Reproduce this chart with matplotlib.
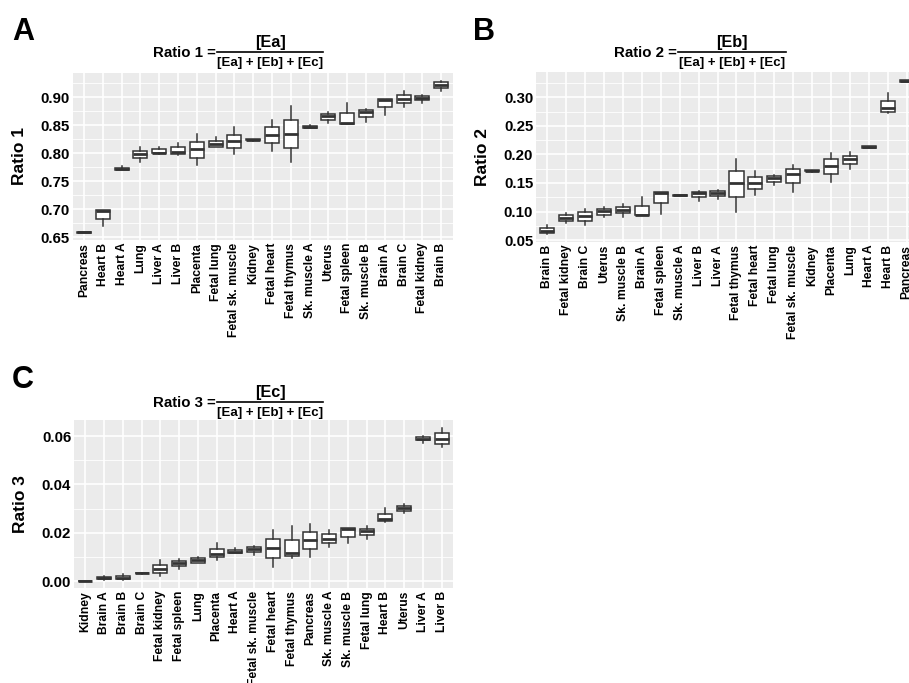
import matplotlib
matplotlib.use("Agg")
import matplotlib.pyplot as plt
from matplotlib.lines import Line2D
from matplotlib.ticker import MultipleLocator, FormatStrFormatter

plt.rcParams['font.family'] = ['Liberation Sans', 'DejaVu Sans']
plt.rcParams['font.weight'] = 'bold'

# ---------------- data ----------------
cats_a = ["Pancreas", "Heart B", "Heart A", "Lung", "Liver A", "Liver B", "Placenta",
          "Fetal lung", "Fetal sk. muscle", "Kidney", "Fetal heart", "Fetal thymus",
          "Sk. muscle A", "Uterus", "Fetal spleen", "Sk. muscle B", "Brain A", "Brain C",
          "Fetal kidney", "Brain B"]
lo_a = [0.658, 0.670, 0.7696, 0.7844, 0.7986, 0.7974, 0.7784, 0.8122, 0.7986, 0.8225,
        0.8033, 0.7838, 0.8455, 0.8537, 0.852, 0.8567, 0.868, 0.8834, 0.8893, 0.9119]
q1_a = [0.6585, 0.683, 0.7705, 0.7915, 0.800, 0.7992, 0.792, 0.8122, 0.8099, 0.823,
        0.8182, 0.8087, 0.846, 0.8597, 0.852, 0.8656, 0.8822, 0.8905, 0.8958, 0.9166]
med_a = [0.659, 0.697, 0.7725, 0.7986, 0.8014, 0.8027, 0.808, 0.8164, 0.8217, 0.8238,
         0.833, 0.8348, 0.8478, 0.8662, 0.8537, 0.8739, 0.896, 0.8976, 0.8994, 0.9213]
q3_a = [0.6595, 0.6984, 0.774, 0.8045, 0.807, 0.8105, 0.8205, 0.8217, 0.8336, 0.8247,
        0.8466, 0.8597, 0.8496, 0.8698, 0.8715, 0.8775, 0.8964, 0.9042, 0.9024, 0.9267]
hi_a = [0.660, 0.699, 0.7767, 0.812, 0.812, 0.818, 0.8348, 0.8294, 0.8478, 0.825,
        0.8603, 0.8846, 0.851, 0.8733, 0.890, 0.8798, 0.8964, 0.9113, 0.9036, 0.9297]

cats_b = ["Brain B", "Fetal kidney", "Brain C", "Uterus", "Sk. muscle B", "Brain A",
          "Fetal spleen", "Sk. muscle A", "Liver B", "Liver A", "Fetal thymus",
          "Fetal heart", "Fetal lung", "Fetal sk. muscle", "Kidney", "Placenta", "Lung",
          "Heart A", "Heart B", "Pancreas"]
lo_b = [0.060, 0.0798, 0.0763, 0.0898, 0.091, 0.0933, 0.0956, 0.127, 0.1178, 0.1225,
        0.0997, 0.1289, 0.1464, 0.1336, 0.170, 0.1523, 0.175, 0.211, 0.272, 0.327]
q1_b = [0.0617, 0.0827, 0.0833, 0.0938, 0.0968, 0.0933, 0.1143, 0.1275, 0.1248, 0.1277,
        0.1248, 0.1394, 0.1523, 0.1493, 0.1705, 0.1657, 0.1832, 0.2115, 0.2749, 0.3275]
med_b = [0.0658, 0.088, 0.092, 0.1003, 0.1026, 0.0938, 0.133, 0.1283, 0.133, 0.133,
         0.1499, 0.1505, 0.1593, 0.1657, 0.1715, 0.1797, 0.1914, 0.213, 0.2807, 0.3286]
q3_b = [0.0716, 0.0933, 0.0985, 0.1038, 0.1085, 0.1096, 0.1341, 0.129, 0.1341, 0.1365,
        0.1709, 0.161, 0.1628, 0.1739, 0.1725, 0.1914, 0.1978, 0.2145, 0.2936, 0.3295]
hi_b = [0.0763, 0.098, 0.1038, 0.1073, 0.1131, 0.1248, 0.1341, 0.1295, 0.1359, 0.1376,
        0.1914, 0.1703, 0.1645, 0.182, 0.173, 0.203, 0.2048, 0.215, 0.307, 0.330]

cats_c = ["Kidney", "Brain A", "Brain B", "Brain C", "Fetal kidney", "Fetal spleen", "Lung",
          "Placenta", "Heart A", "Fetal sk. muscle", "Fetal heart", "Fetal thymus",
          "Pancreas", "Sk. muscle A", "Sk. muscle B", "Fetal lung", "Heart B", "Uterus",
          "Liver A", "Liver B"]
lo_c = [0.0000, 0.0007, 0.0007, 0.0032, 0.0023, 0.0052, 0.0077, 0.0087, 0.0116, 0.0108,
        0.0058, 0.0096, 0.010, 0.0144, 0.0157, 0.0177, 0.0247, 0.0284, 0.0571, 0.0556]
q1_c = [0.00005, 0.0012, 0.0010, 0.0033, 0.0034, 0.0062, 0.0078, 0.0099, 0.0118, 0.0122,
        0.0096, 0.0106, 0.0133, 0.0158, 0.0184, 0.0192, 0.0251, 0.0291, 0.0582, 0.0568]
med_c = [0.0001, 0.0016, 0.0016, 0.0034, 0.0051, 0.0076, 0.0087, 0.0114, 0.0122, 0.0133,
         0.0137, 0.0117, 0.0169, 0.0177, 0.0217, 0.021, 0.0258, 0.0305, 0.0588, 0.0586]
q3_c = [0.00015, 0.0020, 0.0023, 0.0035, 0.0067, 0.0085, 0.0095, 0.0135, 0.0129, 0.0141,
        0.0174, 0.0169, 0.0205, 0.0196, 0.0221, 0.0218, 0.028, 0.0313, 0.0596, 0.0611]
hi_c = [0.0002, 0.0023, 0.0032, 0.0036, 0.0087, 0.0092, 0.010, 0.0158, 0.0136, 0.0147,
        0.0213, 0.0227, 0.0239, 0.0214, 0.0221, 0.0228, 0.0303, 0.032, 0.0598, 0.0633]

# ---------------- layout helpers ----------------
W, H = 909, 683
fig = plt.figure(figsize=(W / 100, H / 100), dpi=100)


def fx(x):
    return x / W


def fy(y):
    return 1 - y / H


def add_ax(l, t, r, b):
    return fig.add_axes([fx(l), fy(b), (r - l) / W, (b - t) / H])


EDGE = '#333333'


def panel(ax, cats, lo, q1, med, q3, hi, ylim, step, ylabel):
    ax.set_facecolor('#EBEBEB')
    stats = [dict(whislo=a, q1=b, med=c, q3=d, whishi=e, fliers=[])
             for a, b, c, d, e in zip(lo, q1, med, q3, hi)]
    ax.bxp(stats, positions=list(range(len(cats))), widths=0.75, showcaps=False,
           patch_artist=True,
           boxprops=dict(facecolor='white', edgecolor=EDGE, linewidth=1.1),
           medianprops=dict(color=EDGE, linewidth=2.0, solid_capstyle='butt'),
           whiskerprops=dict(color=EDGE, linewidth=1.1))
    ax.set_xlim(-0.6, len(cats) - 0.4)
    ax.set_ylim(*ylim)
    ax.set_xticks(range(len(cats)))
    ax.set_xticklabels(cats, rotation=90, fontsize=8.7, fontweight='bold', color='black')
    ax.yaxis.set_major_locator(MultipleLocator(step))
    ax.yaxis.set_minor_locator(MultipleLocator(step / 2))
    ax.yaxis.set_major_formatter(FormatStrFormatter('%.2f'))
    ax.grid(which='major', color='white', linewidth=1.2)
    ax.grid(which='minor', axis='y', color='white', linewidth=0.6)
    ax.set_axisbelow(True)
    for s in ax.spines.values():
        s.set_visible(False)
    ax.tick_params(axis='both', which='both', length=0)
    ax.tick_params(axis='x', pad=2)
    ax.tick_params(axis='y', pad=2, labelsize=10.8, labelcolor='black')
    for lab in ax.get_yticklabels():
        lab.set_fontweight('bold')
    ax.set_ylabel(ylabel, fontsize=12.5, fontweight='bold', labelpad=10)


def title(prefix, num, x_left, x_right, y_line):
    xc = (x_left + x_right) / 2
    fig.text(fx(x_left - 1), fy(y_line + 0.5), prefix, ha='right', va='center',
             fontsize=10.8, fontweight='bold')
    fig.text(fx(xc), fy(y_line - 10.3), num, ha='center', va='center',
             fontsize=11.7, fontweight='bold')
    fig.text(fx(xc), fy(y_line + 10.4), "[Ea] + [Eb] + [Ec]", ha='center', va='center',
             fontsize=9.5, fontweight='bold')
    fig.add_artist(Line2D([fx(x_left), fx(x_right)], [fy(y_line), fy(y_line)],
                          color='black', linewidth=1.2, transform=fig.transFigure))


axA = add_ax(72.7, 72.7, 452.5, 240)
panel(axA, cats_a, lo_a, q1_a, med_a, q3_a, hi_a, (0.6455, 0.9438), 0.05, "Ratio 1")
# panel B extends past the right edge of the figure (cropped in the original)
axB = add_ax(536, 72, 918, 242)
panel(axB, cats_b, lo_b, q1_b, med_b, q3_b, hi_b, (0.0466, 0.3443), 0.05, "Ratio 2")
axC = add_ax(74, 420, 453, 588)
panel(axC, cats_c, lo_c, q1_c, med_c, q3_c, hi_c, (-0.0027, 0.0666), 0.02, "Ratio 3")

title("Ratio 1 =", "[Ea]", 217, 323, 52.3)
title("Ratio 2 =", "[Eb]", 678, 786, 52.3)
title("Ratio 3 =", "[Ec]", 217, 323, 402.3)

for letter, x, y in [("A", 12, 40), ("B", 473, 40), ("C", 12, 388)]:
    fig.text(fx(x), fy(y), letter, ha='left', va='baseline', fontsize=22, fontweight='bold')

fig.savefig("out.png", dpi=100, facecolor='white')
